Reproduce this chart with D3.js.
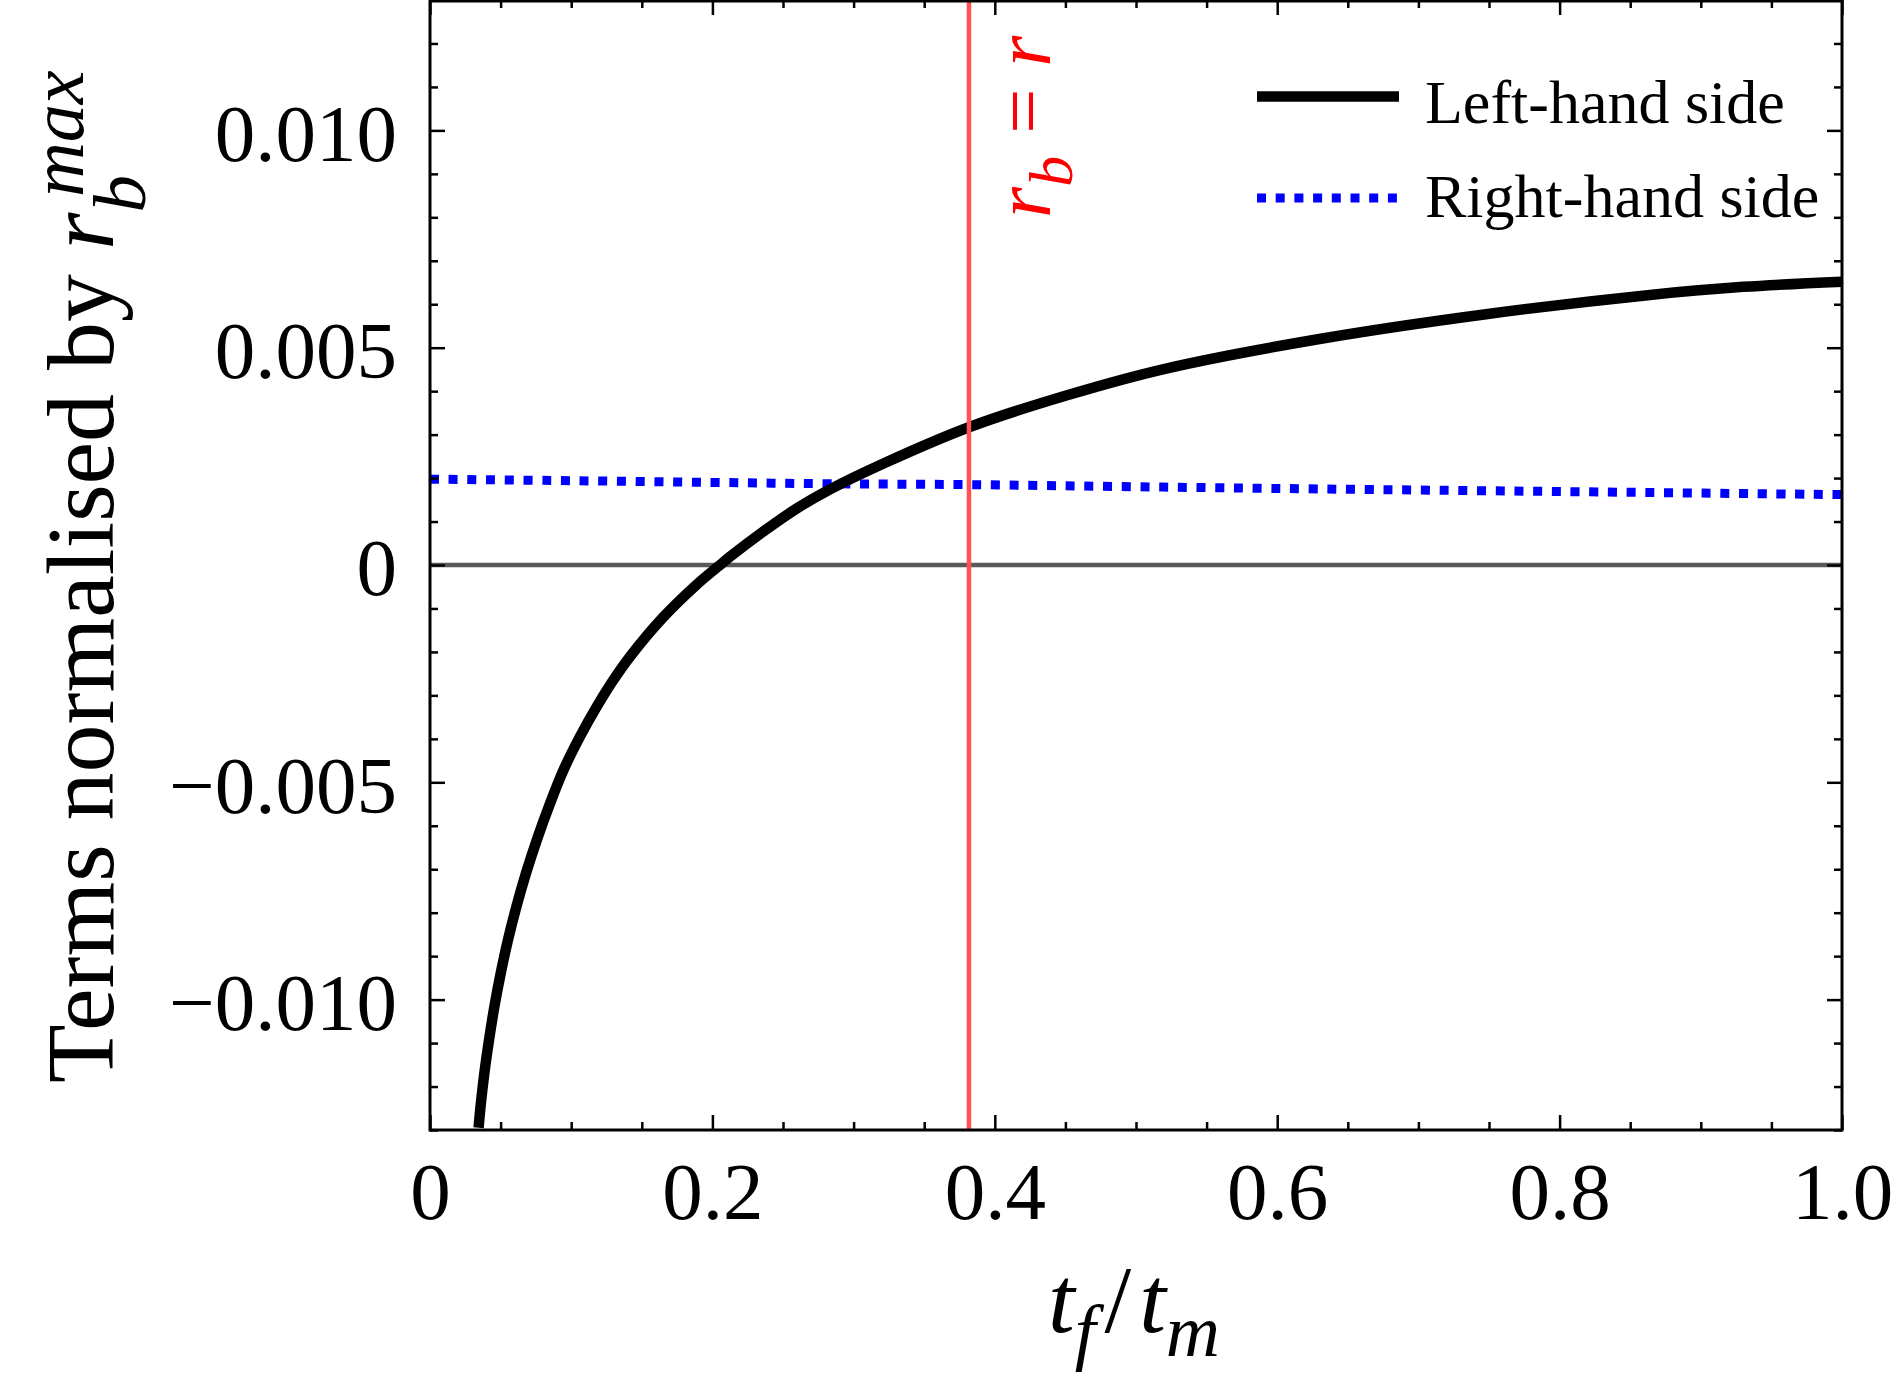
<!DOCTYPE html>
<html>
<head>
<meta charset="utf-8">
<script src="https://cdn.jsdelivr.net/npm/d3@7"></script>
<style>
  body { margin: 0; background: #fff; }
  svg { display: block; }
  .serif { font-family: "Liberation Serif", "Times New Roman", serif; }
</style>
</head>
<body>
<div id="container"></div>
<script>
// values
const lhsT   = [0.0344, 0.0358, 0.0385, 0.0418, 0.0456, 0.0501, 0.0552, 0.0612, 0.068, 0.0757, 0.0845, 0.0945,
                0.1062, 0.1181, 0.1298, 0.1416, 0.1652, 0.1889, 0.2054, 0.2125, 0.2361, 0.2597, 0.2833, 0.3208,
                0.3817, 0.4506, 0.5213, 0.6299, 0.7478, 0.8657, 0.93, 1.0];
const lhsVal = [-0.01295, -0.01246, -0.01169, -0.01093, -0.01016, -0.00939, -0.00863, -0.00786, -0.00709, -0.00632, -0.00553, -0.00472,
                -0.00395, -0.00326, -0.00265, -0.00211, -0.0012, -0.00045, 0, 0.00019, 0.00077, 0.0013, 0.00174, 0.00233,
                0.00317, 0.0039, 0.00452, 0.0052, 0.00577, 0.00622, 0.0064, 0.00652];

const rhsT   = [0, 0.1, 0.2, 0.283, 0.3817, 0.5, 0.6299, 0.8, 1.0];
const rhsVal = [0.001975, 0.00194, 0.0019, 0.00187, 0.00185, 0.0018, 0.00175, 0.00169, 0.00162];

const rbEqualsR = 0.3817;

const xMajor = [0, 0.2, 0.4, 0.6, 0.8, 1.0];
const yMajor = [-0.010, -0.005, 0, 0.005, 0.010];
const legendNames = ["Left-hand side", "Right-hand side"];

document.addEventListener("DOMContentLoaded", function () {
    const W = 1894, H = 1388;
    const left = 430, right = 1842, top = 0, bottom = 1130;

    const svg = d3.select("#container").append("svg")
        .attr("width", W).attr("height", H)
        .attr("class", "serif");

    const x = d3.scaleLinear([0, 1], [left, right]);
    const y = d3.scaleLinear([-0.013, 0.013], [bottom, top]);

    const xMinor = d3.range(0, 1.0001, 0.05).filter(v => !xMajor.some(m => Math.abs(m - v) < 1e-6));
    const yMinor = d3.range(-13, 14).map(v => v / 1000).filter(v => !yMajor.some(m => Math.abs(m - v) < 1e-9));

    svg.append("clipPath").attr("id", "plotClip")
        .append("rect")
        .attr("x", left).attr("y", top)
        .attr("width", right - left).attr("height", bottom - top);

    const plot = svg.append("g").attr("clip-path", "url(#plotClip)");

    // zero line
    plot.append("line")
        .attr("x1", x(0)).attr("x2", x(1))
        .attr("y1", y(0)).attr("y2", y(0))
        .attr("stroke", "#5a5a5a").attr("stroke-width", 4.7);

    const lhs = lhsT.map((t, i) => [t, lhsVal[i]]);
    const rhs = rhsT.map((t, i) => [t, rhsVal[i]]);

    const line = d3.line()
        .x(d => x(d[0]))
        .y(d => y(d[1]))
        .curve(d3.curveCatmullRom.alpha(0.5));

    plot.append("path")
        .datum(rhs)
        .attr("d", line)
        .attr("fill", "none")
        .attr("stroke", "#0000ff")
        .attr("stroke-width", 9)
        .attr("stroke-dasharray", "9 9.7");

    plot.append("path")
        .datum(lhs)
        .attr("d", line)
        .attr("fill", "none")
        .attr("stroke", "#000")
        .attr("stroke-width", 10.5);

    // r_b = r marker
    plot.append("line")
        .attr("x1", x(rbEqualsR)).attr("x2", x(rbEqualsR))
        .attr("y1", top).attr("y2", bottom)
        .attr("stroke", "#ff5252").attr("stroke-width", 4.5);

    const redLbl = svg.append("g")
        .attr("transform", `translate(1050,218) rotate(-90)`)
        .append("text")
        .attr("fill", "#ff0000")
        .attr("font-size", 80);
    redLbl.append("tspan").attr("font-style", "italic").text("r");
    redLbl.append("tspan").attr("font-style", "italic").attr("font-size", 62).attr("dy", 22).text("b");
    redLbl.append("tspan").attr("dy", -22).attr("dx", 22).text("=");
    redLbl.append("tspan").attr("font-style", "italic").attr("dx", 22).text("r");

    // axes: ticks point inward on all four sides
    const fontTick = 81;
    function styleAxis(g) {
        g.select(".domain").remove();
        g.selectAll(".tick line").attr("stroke", "#000").attr("stroke-width", 2.5);
    }

    svg.append("g")
        .attr("transform", `translate(0,${bottom})`)
        .call(d3.axisBottom(x).tickValues(xMinor).tickSize(-8).tickFormat(""))
        .call(styleAxis);
    const xAx = svg.append("g")
        .attr("transform", `translate(0,${bottom})`)
        .call(d3.axisBottom(x).tickValues(xMajor).tickSize(-15)
            .tickFormat(d => d === 0 ? "0" : d3.format(".1f")(d)))
        .call(styleAxis);
    xAx.selectAll(".tick text")
        .attr("y", 89).attr("dy", null)
        .attr("font-family", "Liberation Serif")
        .attr("font-size", fontTick).attr("fill", "#000");

    svg.append("g")
        .attr("transform", `translate(0,${top})`)
        .call(d3.axisTop(x).tickValues(xMinor).tickSize(-8).tickFormat(""))
        .call(styleAxis);
    svg.append("g")
        .attr("transform", `translate(0,${top})`)
        .call(d3.axisTop(x).tickValues(xMajor).tickSize(-15).tickFormat(""))
        .call(styleAxis);

    svg.append("g")
        .attr("transform", `translate(${left},0)`)
        .call(d3.axisLeft(y).tickValues(yMinor).tickSize(-8).tickFormat(""))
        .call(styleAxis);
    const yAx = svg.append("g")
        .attr("transform", `translate(${left},0)`)
        .call(d3.axisLeft(y).tickValues(yMajor).tickSize(-15).tickPadding(33)
            .tickFormat(d => d === 0 ? "0" : d3.format(".3f")(d)))
        .call(styleAxis);
    yAx.selectAll(".tick text")
        .attr("x", -33).attr("dy", "0.37em")
        .attr("font-family", "Liberation Serif")
        .attr("font-size", fontTick).attr("fill", "#000");

    svg.append("g")
        .attr("transform", `translate(${right},0)`)
        .call(d3.axisRight(y).tickValues(yMinor).tickSize(-8).tickFormat(""))
        .call(styleAxis);
    svg.append("g")
        .attr("transform", `translate(${right},0)`)
        .call(d3.axisRight(y).tickValues(yMajor).tickSize(-15).tickFormat(""))
        .call(styleAxis);

    // frame
    svg.append("rect")
        .attr("x", left).attr("y", top + 1)
        .attr("width", right - left).attr("height", bottom - top - 1)
        .attr("fill", "none").attr("stroke", "#000").attr("stroke-width", 3);

    // axis labels
    const xl = svg.append("text")
        .attr("x", 1048).attr("y", 1332)
        .attr("font-size", 96).attr("fill", "#000");
    xl.append("tspan").attr("font-style", "italic").text("t");
    xl.append("tspan").attr("font-style", "italic").attr("font-size", 75).attr("dy", 24).text("f");
    xl.append("tspan").attr("dy", -24).attr("dx", 9).text("/");
    xl.append("tspan").attr("font-style", "italic").attr("dx", 8).text("t");
    xl.append("tspan").attr("font-style", "italic").attr("font-size", 75).attr("dy", 24).text("m");

    const yl = svg.append("g")
        .attr("transform", `translate(113,1083) rotate(-90)`)
        .append("text")
        .attr("font-size", 96).attr("fill", "#000");
    yl.append("tspan").text("Terms normalised by ");
    yl.append("tspan").attr("font-style", "italic").text("r");
    yl.append("tspan").attr("font-style", "italic").attr("font-size", 75).attr("dy", 32).text("b");
    yl.append("tspan").attr("font-style", "italic").attr("font-size", 76).attr("dy", -62).attr("dx", -22).text("max");

    // legend
    const legY = [96.5, 198];
    const leg = svg.append("g");
    leg.append("line")
        .attr("x1", 1257).attr("x2", 1399)
        .attr("y1", legY[0]).attr("y2", legY[0])
        .attr("stroke", "#000").attr("stroke-width", 10.5);
    leg.append("line")
        .attr("x1", 1257).attr("x2", 1399)
        .attr("y1", legY[1]).attr("y2", legY[1])
        .attr("stroke", "#0000ff").attr("stroke-width", 9)
        .attr("stroke-dasharray", "9 9.7");
    leg.selectAll("text.leg")
        .data(legendNames)
        .join("text")
        .attr("class", "leg")
        .attr("x", 1425)
        .attr("y", (d, i) => [123, 217][i])
        .attr("font-size", 62)
        .attr("fill", "#000")
        .text(d => d);
});
</script>
</body>
</html>
